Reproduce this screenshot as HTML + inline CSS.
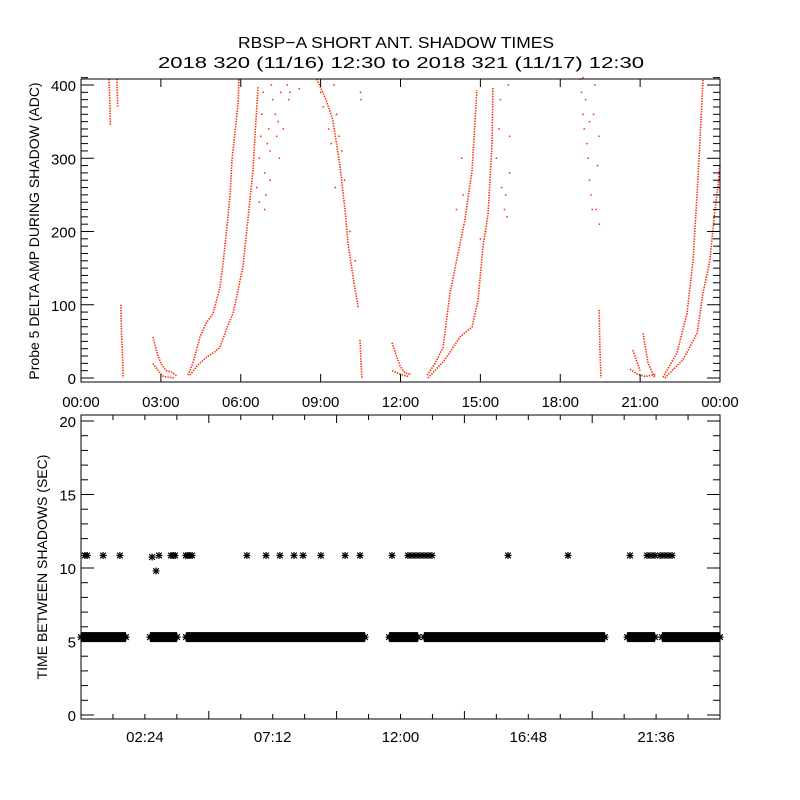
<!DOCTYPE html>
<html><head><meta charset="utf-8"><style>
html,body{margin:0;padding:0;background:#fff;}
svg{display:block;font-family:"Liberation Sans",sans-serif;}
</style></head><body>
<svg id="chart" width="800" height="800" viewBox="0 0 800 800" xmlns="http://www.w3.org/2000/svg">
<rect width="800" height="800" fill="#fff"/>
<text x="396" y="48" text-anchor="middle" font-size="16" textLength="316" lengthAdjust="spacingAndGlyphs">RBSP−A SHORT ANT. SHADOW TIMES</text>
<text x="401" y="68" text-anchor="middle" font-size="16" textLength="486" lengthAdjust="spacingAndGlyphs">2018 320 (11/16) 12:30 to 2018 321 (11/17) 12:30</text>
<g id="topPanel"></g>
<g id="botPanel"></g>
</svg>
<script>
// ---------- TOP PANEL DATA (hours, ADC) ----------
const topTrackT = [
 [1.5,1.52,1.55,1.58],
 [1.05,1.08,1.1],
 [1.35,1.38],
 [2.7,2.85,3.0,3.2,3.4,3.6],
 [2.7,2.9,3.1,3.5],
 [4.02,4.2,4.47,4.7,4.96,5.22,5.35,5.48,5.6,5.67,5.8,5.9,5.93],
 [4.09,4.4,4.73,5.0,5.22,5.5,5.71,5.9,6.08,6.27,6.46,6.55,6.65],
 [8.86,9.2,9.46,9.73,9.92,10.03,10.22,10.41],
 [10.48,10.52,10.55],
 [11.68,11.85,12.0,12.17,12.4],
 [11.68,12.0,12.3],
 [13.0,13.3,13.6,13.86,14.16,14.42,14.69,14.8,14.87],
 [13.03,13.67,14.23,14.69,14.91,15.1,15.29,15.44,15.47],
 [19.46,19.49,19.53],
 [20.73,20.9,21.0],
 [21.11,21.3,21.56],
 [20.62,20.9,21.2,21.6],
 [21.86,22.38,22.76,22.99,23.14,23.25,23.36],
 [21.93,22.61,23.14,23.36,23.62,23.81,23.92,24.0]
];
const topTrackV = [
 [100,60,40,0],
 [408,380,345],
 [408,370],
 [56,35,20,10,8,3],
 [20,10,2,0],
 [4,20,56,75,88,124,160,206,250,298,340,375,408],
 [4,18,29,35,42,70,88,120,152,216,284,340,397],
 [408,380,352,288,229,184,138,96],
 [52,20,0],
 [48,30,15,7,5],
 [10,5,2],
 [4,20,42,116,170,216,284,352,393],
 [0,25,56,70,106,179,225,321,397],
 [93,40,0],
 [38,20,10],
 [61,20,0],
 [12,5,2,5],
 [1,34,88,161,252,325,407],
 [0,25,61,116,161,229,261,290]
];
const scatT = [6.6,6.7,6.75,6.8,6.85,6.9,6.95,7.0,7.05,7.1,7.15,7.2,7.3,7.35,7.4,7.45,7.5,7.6,7.75,7.8,7.85,6.7,6.9,7.1,8.2,9.0,9.1,9.3,9.4,9.6,9.7,9.8,9.9,10.1,10.3,10.5,10.52,9.5,9.55,
 15.6,15.7,15.75,15.8,15.9,15.95,16.0,16.05,16.1,16.1,14.3,14.35,14.1,15.0,15.2,
 18.75,18.8,18.85,18.9,18.95,19.0,19.05,19.1,19.15,19.2,19.25,19.3,19.4,19.45,19.47,18.85,19.1,19.35];
const scatV = [260,300,330,360,390,280,250,320,340,270,400,380,360,330,350,300,390,340,400,380,390,240,230,310,395,390,370,340,320,360,330,310,270,200,160,390,380,400,260,
 300,340,380,260,230,250,220,400,330,280,300,250,230,190,200,
 408,390,360,340,380,320,300,270,250,230,360,400,290,330,210,410,350,230];
const topXTicks = ["00:00","03:00","06:00","09:00","12:00","15:00","18:00","21:00","00:00"];
const topYTicks = [0,100,200,300,400];

// ---------- BOTTOM PANEL DATA ----------
const bandStart = [0,2.59,3.94,11.57,12.88,20.51,21.82];
const bandEnd   = [1.69,3.61,10.67,12.66,19.68,21.56,24.0];
const bandVal   = [5.3,5.3,5.3,5.3,5.3,5.3,5.3];
const ptT = [0.15,0.23,0.83,1.46,2.67,2.93,3.38,3.46,3.53,3.94,4.02,4.09,4.17,6.23,6.95,7.47,8.0,8.34,9.01,9.92,10.48,11.68,12.28,12.43,12.58,12.73,12.88,13.03,13.18,16.04,18.29,20.62,21.26,21.41,21.56,21.75,21.9,22.05,22.2,2.82];
const ptV = [10.85,10.85,10.85,10.85,10.75,10.85,10.85,10.85,10.85,10.85,10.85,10.85,10.85,10.85,10.85,10.85,10.85,10.85,10.85,10.85,10.85,10.85,10.85,10.85,10.85,10.85,10.85,10.85,10.85,10.85,10.85,10.85,10.85,10.85,10.85,10.85,10.85,10.85,10.85,9.8];
const botXTicks = ["02:24","07:12","12:00","16:48","21:36"];
const botYTicks = [0,5,10,15,20];

const NS="http://www.w3.org/2000/svg";
function mk(tag,attrs,parent){const e=document.createElementNS(NS,tag);for(const k in attrs)e.setAttribute(k,attrs[k]);parent.appendChild(e);return e;}
const X0=81,X1=720;
const xs=h=>X0+h/24*(X1-X0);
const yTop=v=>378-v*0.7325;
const yBot=v=>715-v*14.7;

// ----- top panel -----
const tp=document.getElementById('topPanel');
const TT=79,TB=382;
for(let i=0;i<topTrackT.length;i++){
  const pts=topTrackT[i].map((t,j)=>xs(t).toFixed(1)+','+yTop(topTrackV[i][j]).toFixed(1)).join(' ');
  const pl=mk('polyline',{points:pts,fill:'none',stroke:'#ff2a00','stroke-width':'1.6','stroke-dasharray':'1.4 1.2'},tp);
  
  
}
for(let i=0;i<scatT.length;i++){
  const r=mk('rect',{x:xs(scatT[i])-0.75,y:yTop(scatV[i])-0.75,width:1.5,height:1.5,fill:'#ff2a00'},tp);
  
  
}
const tb=mk('rect',{x:X0,y:TT,width:X1-X0,height:TB-TT,fill:'none',stroke:'#000','stroke-width':'1'},tp);


for(let v=0;v<=410;v+=10){
  const y=yTop(v);const L=(v%100===0)?13:7;
  mk('line',{x1:X0,y1:y,x2:X0+L,y2:y,stroke:'#000'},tp);
  mk('line',{x1:X1,y1:y,x2:X1-L,y2:y,stroke:'#000'},tp);
}
topYTicks.forEach(v=>{
  const t=mk('text',{x:X0-5,y:yTop(v)+6,'text-anchor':'end','font-size':'15'},tp);
  t.textContent=v;
  
  
});
topXTicks.forEach((s,i)=>{
  const x=xs(i*3);
  mk('line',{x1:x,y1:TB,x2:x,y2:TB-8,stroke:'#000'},tp);
  mk('line',{x1:x,y1:TT,x2:x,y2:TT+8,stroke:'#000'},tp);
  const t=mk('text',{x:x,y:407,'text-anchor':'middle','font-size':'15'},tp);
  t.textContent=s;
  
  
});
const yl=mk('text',{x:0,y:0,'text-anchor':'middle','font-size':'14',transform:'translate(39,231) rotate(-90)'},tp);
yl.textContent='Probe 5 DELTA AMP DURING SHADOW (ADC)';



// ----- bottom panel -----
const bp=document.getElementById('botPanel');
const BT=415,BB=719;
function star(x,y,name){
  const g=mk('path',{d:`M${x-3.5},${y}h7M${x},${y-3.5}v7M${x-2.8},${y-2.8}l5.6,5.6M${x-2.8},${y+2.8}l5.6,-5.6`,stroke:'#000','stroke-width':'1.2',fill:'none'},bp);
  
  
}
for(let i=0;i<bandStart.length;i++){
  const g=mk('rect',{x:xs(bandStart[i]),y:yBot(bandVal[i])-5,width:xs(bandEnd[i])-xs(bandStart[i]),height:10,fill:'#000'},bp);
  
  
  star(xs(bandStart[i]),yBot(bandVal[i]),'shadow-interval-point');
  star(xs(bandEnd[i]),yBot(bandVal[i]),'shadow-interval-point');
}
for(let i=0;i<ptT.length;i++) star(xs(ptT[i]),yBot(ptV[i]),'shadow-interval-point');
const bb=mk('rect',{x:X0,y:BT,width:X1-X0,height:BB-BT,fill:'none',stroke:'#000'},bp);


for(let v=0;v<=20;v++){
  const y=yBot(v);const L=(v%5===0)?13:7;
  mk('line',{x1:X0,y1:y,x2:X0+L,y2:y,stroke:'#000'},bp);
  mk('line',{x1:X1,y1:y,x2:X1-L,y2:y,stroke:'#000'},bp);
}
botYTicks.forEach(v=>{
  const t=mk('text',{x:X0-5,y:yBot(v)+6,'text-anchor':'end','font-size':'15'},bp);
  t.textContent=v;
  
  
});
for(let k=1;k<20;k++){
  const x=xs(k*1.2);const L=(k%4===0)?8:5;
  mk('line',{x1:x,y1:BB,x2:x,y2:BB-L,stroke:'#000'},bp);
  mk('line',{x1:x,y1:BT,x2:x,y2:BT+L,stroke:'#000'},bp);
}
botXTicks.forEach((s,i)=>{
  const t=mk('text',{x:xs((i+0.5)*4.8),y:742,'text-anchor':'middle','font-size':'15'},bp);
  t.textContent=s;
  
  
});
const yl2=mk('text',{x:0,y:0,'text-anchor':'middle','font-size':'14',transform:'translate(47,567) rotate(-90)'},bp);
yl2.textContent='TIME BETWEEN SHADOWS (SEC)';


</script>
</body></html>
